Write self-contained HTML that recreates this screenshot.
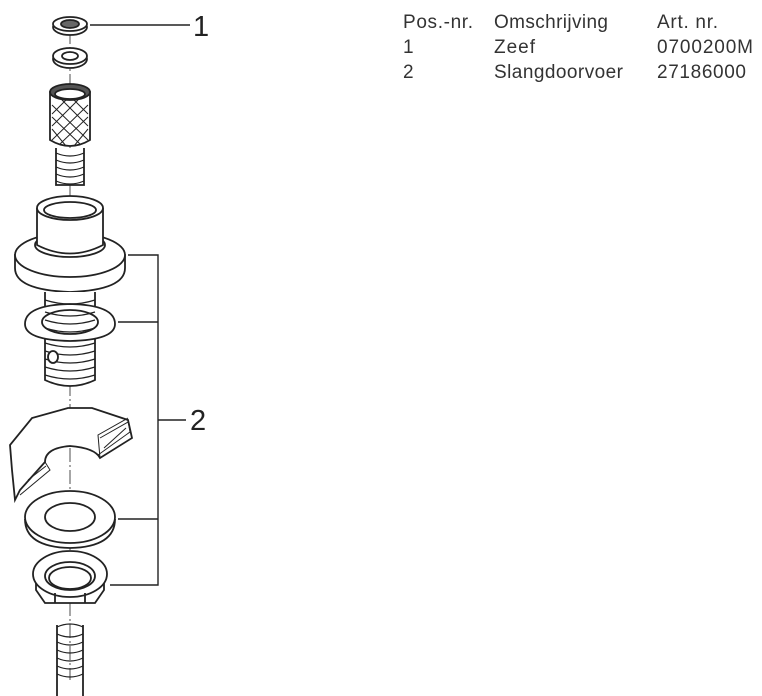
<!DOCTYPE html>
<html><head><meta charset="utf-8"><style>
body{margin:0;background:#fff;width:762px;height:696px;overflow:hidden}
svg{position:absolute;left:0;top:0}
</style></head><body>
<svg width="762" height="696" viewBox="0 0 762 696" font-family="Liberation Sans, sans-serif">
<g fill="#333" font-size="19">
<text x="403" y="28" textLength="70">Pos.-nr.</text><text x="494" y="28" textLength="114">Omschrijving</text><text x="657" y="28" textLength="61">Art. nr.</text>
<text x="403" y="53">1</text><text x="494" y="53" textLength="41">Zeef</text><text x="657" y="53" textLength="96">0700200M</text>
<text x="403" y="78">2</text><text x="494" y="78" textLength="129">Slangdoorvoer</text><text x="657" y="78" textLength="89">27186000</text>
</g>
<g fill="#222" font-size="29"><text x="193" y="36">1</text><text x="190" y="430">2</text></g>
<g stroke="#222" stroke-width="1.4" fill="none">
<line x1="90" y1="25" x2="190" y2="25"/>
<polyline points="128,255 158,255 158,585 110,585"/>
<line x1="118" y1="322" x2="158" y2="322"/>
<line x1="118" y1="519" x2="158" y2="519"/>
<line x1="158" y1="420" x2="186" y2="420"/>
<line x1="70" y1="30" x2="70" y2="680" stroke-dasharray="14,3,2,3" stroke-width="0.8"/>
</g>
<g stroke="#222" stroke-width="1.8" fill="#fff">
<ellipse cx="70" cy="27" rx="17" ry="8"/><ellipse cx="70" cy="24" rx="17" ry="7"/><ellipse cx="70" cy="24" rx="9" ry="4" fill="#666"/>
<ellipse cx="70" cy="59" rx="17" ry="9"/><ellipse cx="70" cy="56" rx="17" ry="8"/><ellipse cx="70" cy="56" rx="8" ry="4"/>
<path d="M50 92 L50 140 Q70 152 90 140 L90 92 Z"/>
<ellipse cx="70" cy="92" rx="20" ry="8" fill="#555"/><ellipse cx="70" cy="94" rx="15" ry="5"/>
<path d="M52 105 L88 140 M52 117 L80 144 M52 129 L66 146 M62 100 L88 126 M74 100 L88 114 M88 105 L52 140 M88 117 L60 144 M88 129 L74 146 M78 100 L52 126 M66 100 L52 114" stroke-width="1"/>
<path d="M56 148 L56 185 L84 185 L84 148"/>
<path d="M56 153 Q70 159 84 153 M56 160 Q70 166 84 160 M56 167 Q70 173 84 167 M56 174 Q70 180 84 174 M56 181 Q70 187 84 181" fill="none" stroke-width="1.2"/>
<path d="M15 255 L15 268 Q15 290 70 292 Q125 290 125 268 L125 255 Z"/>
<ellipse cx="70" cy="255" rx="55" ry="22"/>
<ellipse cx="70" cy="245" rx="35" ry="12"/>
<path d="M37 208 L37 245 Q70 262 103 245 L103 208"/>
<ellipse cx="70" cy="208" rx="33" ry="12"/><ellipse cx="70" cy="210" rx="26" ry="8"/>
<path d="M45 292 L45 380 Q70 392 95 380 L95 292"/>
<path d="M45 300 Q70 308 95 300 M45 343 Q70 351 95 343 M45 351 Q70 359 95 351 M45 359 Q70 367 95 359 M45 367 Q70 375 95 367 M45 375 Q70 383 95 375" fill="none" stroke-width="1.2"/>
<path d="M25 324 Q25 340 70 341 Q115 340 115 324 Q115 305 70 304 Q25 305 25 324 Z"/>
<ellipse cx="70" cy="322" rx="28" ry="12"/>
<path d="M45 312 Q70 320 95 312 M45 320 Q70 328 95 320 M45 328 Q70 336 95 328" fill="none" stroke-width="1.2"/>
<ellipse cx="53" cy="357" rx="5" ry="6"/>
<path d="M68 408 L92 408 L128 420 L132 438 L100 458 Q95 448 70 446 Q45 448 45 462 L20 490 L15 500 L12 470 L10 445 L32 418 Z"/>
<path d="M92 408 L128 420 L130 432 L98 455 M100 458 L98 435 L128 418" fill="none" stroke-width="1"/>
<path d="M45 462 L50 470 L20 495 M100 438 L128 422 M104 448 L126 428 M28 480 L46 466" fill="none" stroke-width="1"/>
<path d="M25 519 Q25 547 70 548 Q115 547 115 519" />
<ellipse cx="70" cy="517" rx="45" ry="26"/><ellipse cx="70" cy="517" rx="25" ry="14"/>
<path d="M36 575 L36 590 L45 603 L95 603 L104 590 L104 575 Z"/>
<ellipse cx="70" cy="574" rx="37" ry="23"/><ellipse cx="70" cy="576" rx="25" ry="14"/><ellipse cx="70" cy="578" rx="21" ry="11"/>
<line x1="55" y1="603" x2="55" y2="593"/><line x1="85" y1="603" x2="85" y2="593"/>
<path d="M57 625 L57 696 M83 625 L83 696"/>
<path d="M57 627 Q70 621 83 627 M57 634 Q70 640 83 634 M57 642 Q70 648 83 642 M57 650 Q70 656 83 650 M57 658 Q70 664 83 658 M57 666 Q70 672 83 666 M57 674 Q70 680 83 674" fill="none" stroke-width="1.2"/>
</g>
</svg>
</body></html>
